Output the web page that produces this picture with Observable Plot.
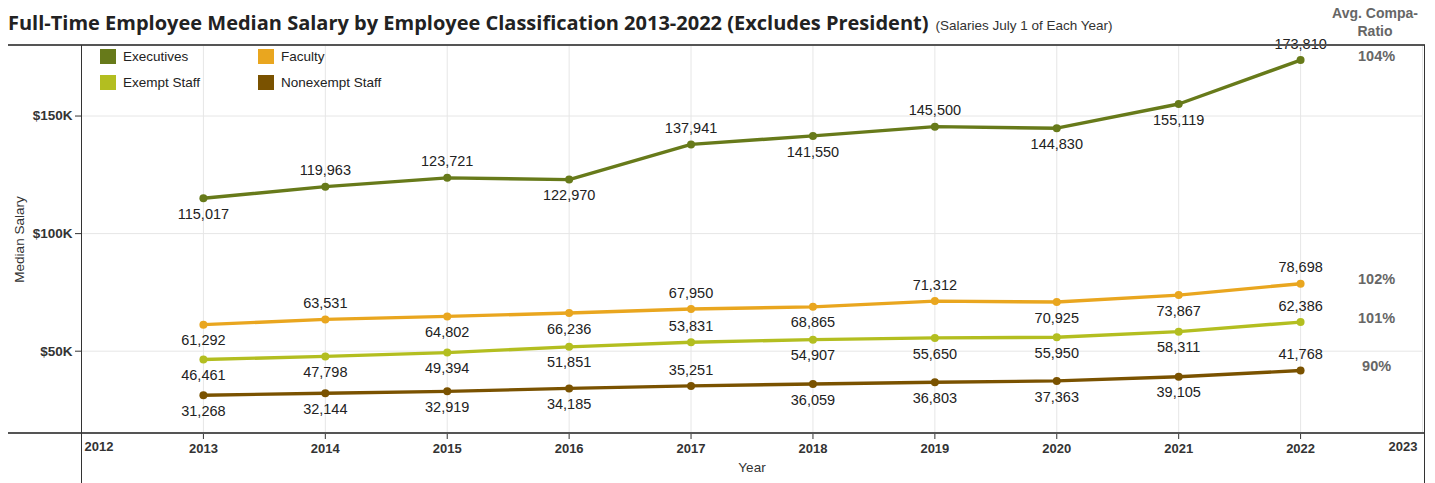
<!DOCTYPE html>
<html><head><meta charset="utf-8">
<script src="https://cdn.jsdelivr.net/npm/d3@7"></script>
<script src="https://cdn.jsdelivr.net/npm/@observablehq/plot@0.6"></script>
<style>
body{margin:0;background:#fff;font-family:"Liberation Sans",Arial,sans-serif;}
#wrap{position:relative;width:1435px;height:483px;overflow:hidden;background:#fff}
#title{position:absolute;left:8px;top:10px;white-space:nowrap;line-height:26px}
#title .main{font-family:"Open Sans",sans-serif;font-weight:700;font-size:20px;color:#222}
#title .sub{font-family:"Liberation Sans Narrow","Liberation Sans",sans-serif;font-stretch:condensed;font-size:13.5px;color:#333;margin-left:7px}
#hdr{position:absolute;left:1320px;width:110px;top:4px;text-align:center;font-family:"Liberation Sans Narrow","Liberation Sans",sans-serif;font-stretch:condensed;font-weight:bold;color:#666;font-size:14px;line-height:18px}
#chart{position:absolute;left:0;top:45px}
.hline{position:absolute;left:8px;width:1417px;height:2px;background:#555}
#vframe{position:absolute;left:81px;top:45px;width:1342px;height:438px;border-left:1px solid #333;border-right:1px solid #333;pointer-events:none}
#legend{position:absolute;left:100px;top:48px;display:grid;grid-template-columns:158px 160px;row-gap:10px;font-size:13.5px;color:#222}
#legend .it{display:flex;align-items:center;height:16px}
#legend .sw{width:16px;height:15px;margin-right:7px}
</style></head>
<body>
<div id="wrap">
  <div id="title"><span class="main">Full-Time Employee Median Salary by Employee Classification 2013-2022 (Excludes President)</span><span class="sub">(Salaries July 1 of Each Year)</span></div>
  <div id="hdr">Avg. Compa-<br>Ratio</div>
  <div id="chart"></div>
  <div class="hline" style="top:44px"></div>
  <div class="hline" style="top:432px"></div>
  <div id="vframe"></div>
  <div id="legend"></div>
</div>
<script>
const years = [2013,2014,2015,2016,2017,2018,2019,2020,2021,2022];
const seriesNames = ["Executives","Faculty","Exempt Staff","Nonexempt Staff"];
const seriesColors = ["#677a1a","#e9a61f","#b3be20","#7a5200"];
const executives = [115017,119963,123721,122970,137941,141550,145500,144830,155119,173810];
const faculty = [61292,63531,64802,66236,67950,68865,71312,70925,73867,78698];
const exemptStaff = [46461,47798,49394,51851,53831,54907,55650,55950,58311,62386];
const nonexemptStaff = [31268,32144,32919,34185,35251,36059,36803,37363,39105,41768];
const executivesSide = ["below","above","above","below","above","below","above","below","below","above"];
const facultySide = ["below","above","below","below","above","below","above","below","below","above"];
const exemptSide = ["below","below","below","below","above","below","below","below","below","above"];
const nonexemptSide = ["below","below","below","below","above","below","below","below","below","above"];
const compaRatio = ["104%","102%","101%","90%"];
const yTicks = [50000,100000,150000];
const xTicks = [2012,2013,2014,2015,2016,2017,2018,2019,2020,2021,2022,2023];

const valuesBySeries = [executives, faculty, exemptStaff, nonexemptStaff];
const sidesBySeries = [executivesSide, facultySide, exemptSide, nonexemptSide];
const data = [];
seriesNames.forEach((s, i) => years.forEach((yr, j) => data.push({series: s, year: yr, value: valuesBySeries[i][j], side: sidesBySeries[i][j]})));
const last = seriesNames.map((s, i) => ({series: s, year: years[years.length-1], value: valuesBySeries[i][years.length-1], ratio: compaRatio[i]}));
const fmt = d3.format(",");

const chart = Plot.plot({
  width: 1435, height: 438,
  marginTop: 0, marginBottom: 50, marginLeft: 81, marginRight: 13,
  style: {fontFamily: "'Liberation Sans', Arial, sans-serif", fontSize: "13px", background: "transparent", overflow: "visible"},
  x: {domain: [2012, 2023]},
  y: {domain: [15000, 180000]},
  color: {domain: seriesNames, range: seriesColors},
  marks: [
    Plot.gridX(xTicks, {stroke: "#e6e6e6", strokeOpacity: 1}),
    Plot.gridY(yTicks, {stroke: "#e6e6e6", strokeOpacity: 1}),
    Plot.axisY(yTicks, {tickFormat: d => `$${d/1000}K`, tickSize: 6, tickPadding: 3, fontWeight: "bold", fill: "#333", stroke: "#333", fontSize: 13.5, label: null}),
    Plot.text(["Median Salary"], {frameAnchor: "left", textAnchor: "middle", dx: -62, rotate: -90, fontSize: 13.5, fill: "#333"}),
    Plot.axisX(xTicks.slice(1, -1), {tickFormat: d => String(d), tickSize: 6, tickPadding: 4, fontWeight: "bold", fill: "#333", stroke: "#333", fontSize: 13, label: null}),
    Plot.text(xTicks.slice(0, 1), {x: d => d, text: d => String(d), frameAnchor: "bottom", dy: 17, dx: 3, textAnchor: "start", fontWeight: "bold", fill: "#333", fontSize: 13}),
    Plot.text(xTicks.slice(-1), {x: d => d, text: d => String(d), frameAnchor: "bottom", dy: 17, dx: -5, textAnchor: "end", fontWeight: "bold", fill: "#333", fontSize: 13}),
    Plot.text(["Year"], {frameAnchor: "bottom", dy: 38, fontSize: 13.5, fill: "#333"}),
    Plot.line(data, {x: "year", y: "value", z: "series", stroke: "series", strokeWidth: 3.4}),
    Plot.dot(data, {x: "year", y: "value", fill: "series", r: 4}),
    Plot.text(data.filter(d => d.side === "above"), {x: "year", y: "value", text: d => fmt(d.value), dy: -16, fontSize: 14.5, fill: "#222"}),
    Plot.text(data.filter(d => d.side === "below"), {x: "year", y: "value", text: d => fmt(d.value), dy: 16, fontSize: 14.5, fill: "#222"}),
    Plot.text(last, {x: "year", y: "value", text: "ratio", dx: 76, dy: -4, fontSize: 14.5, fontWeight: "bold", fill: "#666"})
  ]
});
document.getElementById("chart").appendChild(chart);

const legend = document.getElementById("legend");
[0, 1, 2, 3].forEach(i => {
  const it = document.createElement("div");
  it.className = "it";
  it.innerHTML = `<span class="sw" style="background:${seriesColors[i]}"></span><span>${seriesNames[i]}</span>`;
  legend.appendChild(it);
});
</script>
</body></html>
